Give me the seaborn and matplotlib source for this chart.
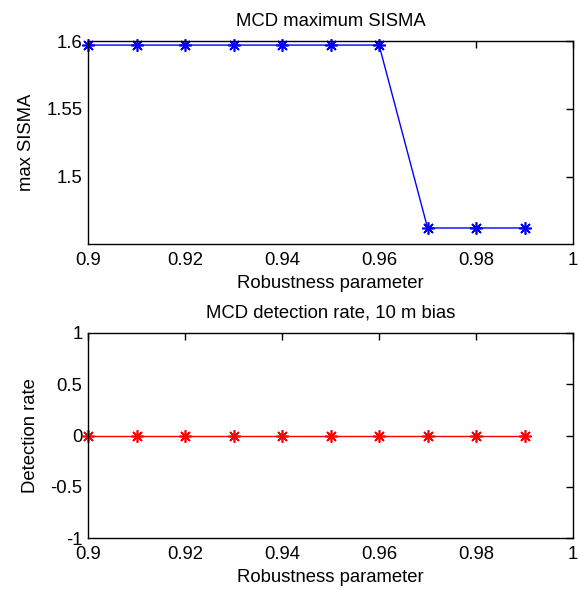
import numpy as np
import pandas as pd
import matplotlib
matplotlib.use("Agg")
import matplotlib.pyplot as plt
import seaborn as sns

# Данные
robustness = [0.90, 0.91, 0.92, 0.93, 0.94, 0.95, 0.96, 0.97, 0.98, 0.99]
max_sisma = [1.597, 1.597, 1.597, 1.597, 1.597, 1.597, 1.597, 1.4625, 1.4625, 1.4625]
detection_rate = [0, 0, 0, 0, 0, 0, 0, 0, 0, 0]

x_ticks = [0.9, 0.92, 0.94, 0.96, 0.98, 1]
x_tick_labels = ['0.9', '0.92', '0.94', '0.96', '0.98', '1']
top_y_ticks = [1.5, 1.55, 1.6]
bottom_y_ticks = [-1, -0.5, 0, 0.5, 1]

df = pd.DataFrame({'r': robustness, 'sisma': max_sisma, 'det': detection_rate})

sns.set_style("white")
plt.rcParams['font.family'] = ['Liberation Sans', 'DejaVu Sans']
plt.rcParams['font.size'] = 13.3
plt.rcParams['text.color'] = 'black'
plt.rcParams['axes.labelcolor'] = 'black'

fig = plt.figure(figsize=(5.8, 5.9), dpi=100)
ax1 = fig.add_axes([0.152, 0.5864, 0.836, 0.3441])
ax2 = fig.add_axes([0.152, 0.0881, 0.836, 0.3475])

asterisk = (8, 2, 0)
sns.lineplot(data=df, x='r', y='sisma', ax=ax1, color='#0000ff', marker=asterisk,
             markersize=9, markeredgewidth=1.2, markeredgecolor='#0000ff',
             linewidth=1.0, clip_on=False)
sns.lineplot(data=df, x='r', y='det', ax=ax2, color='#ff0000', marker=asterisk,
             markersize=9, markeredgewidth=1.2, markeredgecolor='#ff0000',
             linewidth=1.0, clip_on=False)

ax1.set_xlim(0.9, 1)
ax1.set_ylim(1.4507, 1.6)
ax1.set_yticks(top_y_ticks)
ax1.set_yticklabels(['1.5', '1.55', '1.6'])
ax1.set_title('MCD maximum SISMA', fontsize=13.3, pad=11)
ax1.set_ylabel('max SISMA', labelpad=8)

ax2.set_xlim(0.9, 1)
ax2.set_ylim(-1, 1)
ax2.set_yticks(bottom_y_ticks)
ax2.set_yticklabels(['-1', '-0.5', '0', '0.5', '1'])
ax2.set_title('MCD detection rate, 10 m bias', fontsize=13.3, pad=11)
ax2.set_ylabel('Detection rate', labelpad=8)

for ax in (ax1, ax2):
    ax.set_xticks(x_ticks)
    ax.set_xticklabels(x_tick_labels)
    ax.set_xlabel('Robustness parameter', labelpad=4)
    ax.tick_params(direction='in', length=5, width=1, top=True, right=True,
                   labelsize=13.3, colors='black', pad=4)
    ax.tick_params(axis='x', pad=6)
    for s in ax.spines.values():
        s.set_color('black')
        s.set_linewidth(1)

fig.savefig('out.png', dpi=100)
